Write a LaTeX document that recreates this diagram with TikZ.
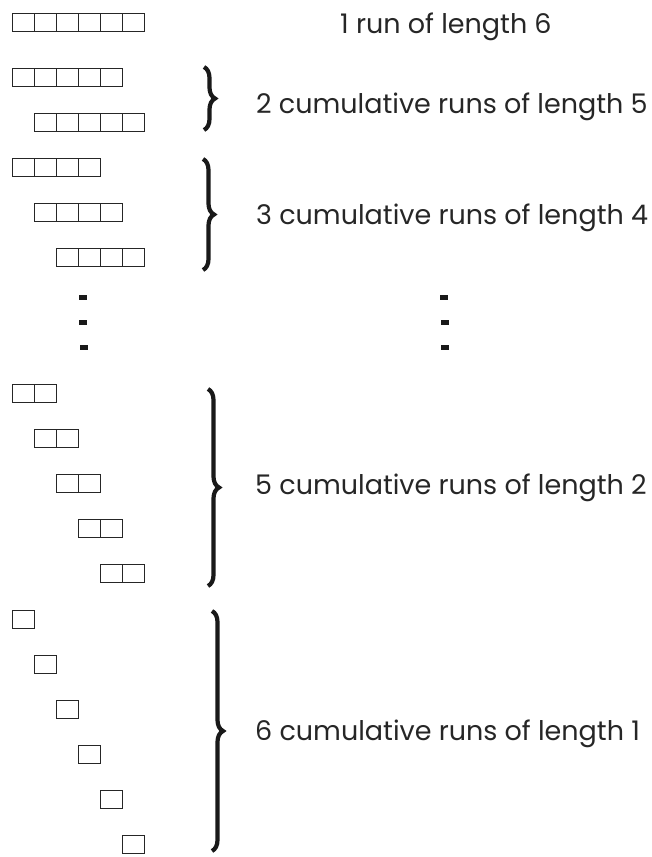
\documentclass[tikz,border=0pt]{standalone}
\usepackage{fontspec}
\setmainfont{Poppins}
\usetikzlibrary{decorations.pathreplacing}
\begin{document}
\begin{tikzpicture}[x=1pt,y=-1pt,
  cell/.style={draw=black!85,line width=1pt},
  bracestyle/.style={decorate,decoration={brace,amplitude=11pt,aspect=0.5},line width=4.2pt,draw=black!90},
  lab/.style={anchor=base west,inner sep=0pt,font=\fontsize{27}{30}\selectfont,text=black!85},
  dotmark/.style={fill=black!90}]
\useasboundingbox (0,0) rectangle (651,857);
% row of length 6
\foreach \i in {0,...,5} \draw[cell] (12.3+22*\i,13.3) rectangle ++(22,18.4);
% rows of length 5
\foreach \r in {0,1} \foreach \i in {0,...,4}
  \draw[cell] (12.3+22*\r+22*\i,68.3+45*\r) rectangle ++(22,18.4);
% rows of length 4
\foreach \r in {0,1,2} \foreach \i in {0,...,3}
  \draw[cell] (12.3+22*\r+22*\i,158.3+45*\r) rectangle ++(22,18.4);
% rows of length 2
\foreach \r in {0,...,4} \foreach \i in {0,1}
  \draw[cell] (12.3+22*\r+22*\i,384.3+45*\r) rectangle ++(22,18.4);
% rows of length 1
\foreach \r in {0,...,5}
  \draw[cell] (12.3+22*\r,610.7+45*\r) rectangle ++(22,17.6);
% dots
\foreach \x/\y in {78.5/294.5,79.2/319.5,80/344.5,440/294.5,440.5/319.5,441/344.5}
  \fill[dotmark] (\x,\y) rectangle ++(8,5);
% braces
\draw[bracestyle] (204,67) -- (204,130);
\draw[bracestyle] (203,159) -- (203,270);
\draw[bracestyle] (208,389) -- (208,586);
\draw[bracestyle] (212,611) -- (212,851);
% labels
\node[lab] (t6) at (340,33) {1 run of length 6};
\node[lab] (t5) at (256,113) {2 cumulative runs of length 5};
\node[lab] (t4) at (256,224) {3 cumulative runs of length 4};
\node[lab] (t2) at (255,494) {5 cumulative runs of length 2};
\node[lab] (t1) at (255,740) {6 cumulative runs of length 1};
\end{tikzpicture}
\end{document}
